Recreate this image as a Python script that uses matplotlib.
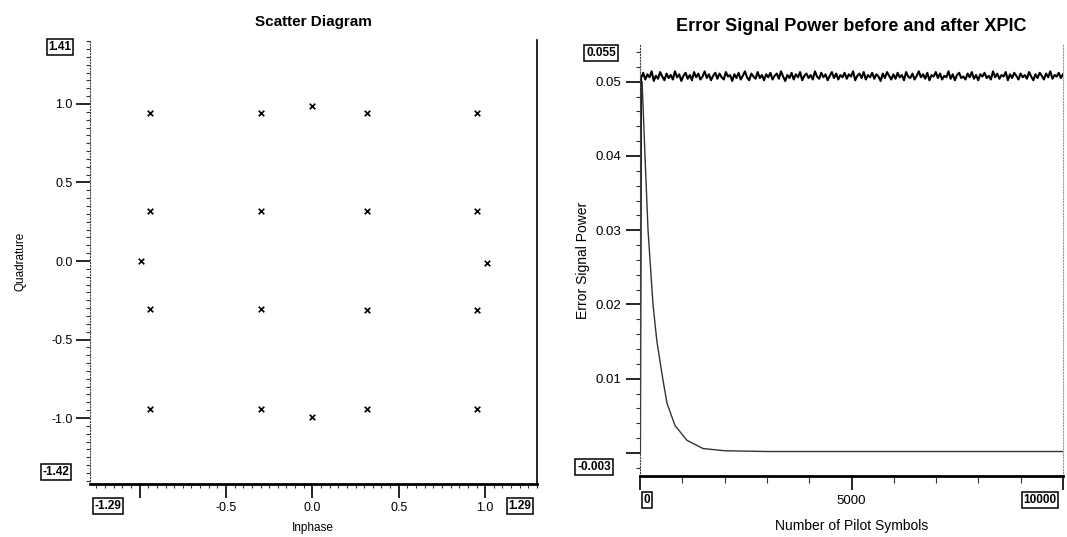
import numpy as np
import matplotlib

matplotlib.use("Agg")
import matplotlib.pyplot as plt
from matplotlib.ticker import FixedLocator, MultipleLocator

plt.rcParams["font.family"] = ["Liberation Sans", "DejaVu Sans"]

W, H = 1067, 537

# constellation
inphase = [-0.94, -0.30, 0.00, 0.315, 0.95,
           -0.94, -0.30, 0.315, 0.95,
           -0.99, 1.01,
           -0.94, -0.30, 0.315, 0.95,
           -0.94, -0.30, 0.00, 0.315, 0.95]
quadrature = [0.945, 0.945, 0.99, 0.94, 0.94,
              0.318, 0.318, 0.318, 0.318,
              0.0, -0.01,
              -0.308, -0.308, -0.31, -0.31,
              -0.94, -0.94, -0.995, -0.94, -0.94]

# error power after XPIC (decay), symbols vs power
after_n = [0, 20, 50, 118, 190, 307, 400, 544, 638, 827, 1111, 1489, 2000, 3000,
           4000, 5000, 6000, 7000, 8000, 9000, 10000]
after_p = [0.0, 0.048, 0.050, 0.040, 0.030, 0.020, 0.015, 0.0098, 0.0067, 0.0037,
           0.0017, 0.0006, 0.0003, 0.0002, 0.0002, 0.0002, 0.0002, 0.0002, 0.0002,
           0.0002, 0.0002]

# error power before XPIC: noisy band around 0.0507
before_p = [0.0, 0.0505, 0.0512, 0.0503, 0.0510, 0.0506, 0.0514, 0.0501, 0.0508, 0.0504,
            0.0513, 0.0507, 0.0502, 0.0511, 0.0505, 0.0509, 0.0503, 0.0514, 0.0506, 0.0510,
            0.0501, 0.0508, 0.0512, 0.0504, 0.0509, 0.0502, 0.0513, 0.0506, 0.0511, 0.0503,
            0.0507, 0.0514, 0.0505, 0.0510, 0.0502, 0.0508, 0.0512, 0.0504, 0.0511, 0.0506,
            0.0503, 0.0513, 0.0507, 0.0509, 0.0501, 0.0510, 0.0505, 0.0512, 0.0503, 0.0508,
            0.0514, 0.0506, 0.0502, 0.0511, 0.0507, 0.0504, 0.0513, 0.0505, 0.0509, 0.0502,
            0.0510, 0.0506, 0.0512, 0.0503, 0.0508, 0.0511, 0.0504, 0.0514, 0.0507, 0.0501,
            0.0509, 0.0505, 0.0512, 0.0503, 0.0510, 0.0506, 0.0513, 0.0502, 0.0508, 0.0511,
            0.0505, 0.0509, 0.0503, 0.0514, 0.0507, 0.0504, 0.0512, 0.0506, 0.0510, 0.0502,
            0.0508, 0.0513, 0.0505, 0.0511, 0.0503, 0.0509, 0.0506, 0.0512, 0.0504, 0.0510,
            0.0507, 0.0514, 0.0502, 0.0508, 0.0511, 0.0505, 0.0513, 0.0503, 0.0509, 0.0506,
            0.0512, 0.0504, 0.0510, 0.0507, 0.0501, 0.0511, 0.0505, 0.0513, 0.0508, 0.0503,
            0.0510, 0.0504, 0.0512, 0.0506, 0.0509, 0.0502, 0.0513, 0.0507, 0.0505, 0.0511,
            0.0503, 0.0508, 0.0514, 0.0506, 0.0510, 0.0504, 0.0512, 0.0502, 0.0509, 0.0507,
            0.0513, 0.0505, 0.0511, 0.0503, 0.0508, 0.0506, 0.0514, 0.0504, 0.0510, 0.0502,
            0.0509, 0.0512, 0.0505, 0.0507, 0.0503, 0.0511, 0.0506, 0.0513, 0.0504, 0.0509,
            0.0502, 0.0510, 0.0507, 0.0512, 0.0505, 0.0508, 0.0503, 0.0514, 0.0506, 0.0511,
            0.0504, 0.0509, 0.0507, 0.0513, 0.0502, 0.0510, 0.0505, 0.0512, 0.0508, 0.0503,
            0.0511, 0.0506, 0.0509, 0.0504, 0.0513, 0.0507, 0.0502, 0.0510, 0.0505, 0.0512,
            0.0508, 0.0503, 0.0511, 0.0506, 0.0514, 0.0504, 0.0509, 0.0507, 0.0512, 0.0505,
            0.0510]
before_n = [0] + list(np.linspace(25, 10000, len(before_p) - 1))

sc_xticks = [-1.0, -0.5, 0.0, 0.5, 1.0]
sc_xlabels = ["", "-0.5", "0.0", "0.5", "1.0"]
sc_yticks = [-1.0, -0.5, 0.0, 0.5, 1.0]
sc_ylabels = ["-1.0", "-0.5", "0.0", "0.5", "1.0"]
ep_yticks = [0.01, 0.02, 0.03, 0.04, 0.05]
ep_ylabels = ["0.01", "0.02", "0.03", "0.04", "0.05"]


def px(x0, y0, x1, y1):
    return [x0 / W, 1 - y1 / H, (x1 - x0) / W, (y1 - y0) / H]


def boxed(x, y, s, ha="center"):
    fig.text(x / W, 1 - y / H, s, ha=ha, va="center", fontsize=8.5, fontweight="bold",
             bbox=dict(boxstyle="square,pad=0.15", fc="white", ec="black", lw=1.1))


def style(ax):
    ax.spines["top"].set_visible(False)
    ax.spines["bottom"].set_linewidth(2)
    ax.spines["left"].set_linestyle(":")
    ax.spines["left"].set_color("#444444")
    ax.tick_params(which="major", direction="out", length=10, width=1.2, color="black")
    ax.tick_params(which="minor", direction="out", length=3, width=0.8, color="#333333")


fig = plt.figure(figsize=(W / 100, H / 100), dpi=100)

# ---- scatter diagram
ax1 = fig.add_axes(px(89.5, 39.6, 537, 484))
ax1.scatter(inphase, quadrature, marker="x", s=16, c="black", linewidths=1.2)
ax1.set_xlim(-1.29, 1.30)
ax1.set_ylim(-1.42, 1.41)
style(ax1)
ax1.spines["right"].set_linewidth(1.2)
ax1.set_xticks(sc_xticks, sc_xlabels, fontsize=9)
ax1.set_yticks(sc_yticks, sc_ylabels, fontsize=9)
ax1.xaxis.set_minor_locator(MultipleLocator(0.05))
ax1.yaxis.set_minor_locator(MultipleLocator(0.05))
ax1.tick_params(axis="x", pad=3)
ax1.tick_params(axis="y", pad=2)
ax1.set_xlabel("Inphase", fontsize=8.5, labelpad=6)
ax1.set_ylabel("Quadrature", fontsize=8.5, labelpad=18)
ax1.set_title("Scatter Diagram", fontsize=11, fontweight="bold", pad=10)

# ---- error signal power
ax2 = fig.add_axes(px(640, 44.6, 1063, 476))
ax2.plot(before_n, before_p, color="black", lw=1.5)
ax2.plot(after_n, after_p, color="#333333", lw=1.0)
ax2.set_xlim(0, 10000)
ax2.set_ylim(-0.0031, 0.055)
style(ax2)
ax2.spines["right"].set_linestyle(":")
ax2.spines["right"].set_color("#999999")
ax2.set_xticks([0, 5000, 10000], ["", "5000", ""], fontsize=9.5)
ax2.set_yticks([0.0] + ep_yticks, [""] + ep_ylabels, fontsize=9.5)
ax2.xaxis.set_minor_locator(FixedLocator(np.arange(1000, 10000, 1000)))
ax2.yaxis.set_minor_locator(MultipleLocator(0.002))
ax2.tick_params(axis="x", which="minor", length=5)
ax2.tick_params(axis="x", pad=4)
ax2.set_xlabel("Number of Pilot Symbols", fontsize=10, labelpad=8)
ax2.set_ylabel("Error Signal Power", fontsize=10, labelpad=4)
ax2.set_title("Error Signal Power before and after XPIC", fontsize=13,
              fontweight="bold", pad=10)

# boxed axis limits
boxed(60, 47, "1.41")
boxed(56, 472, "-1.42")
boxed(108, 506, "-1.29")
boxed(520, 506, "1.29")
boxed(601, 53, "0.055")
boxed(594, 467, "-0.003")
boxed(647, 500, "0")
boxed(1040, 500, "10000")

fig.savefig("out.png", dpi=100)
